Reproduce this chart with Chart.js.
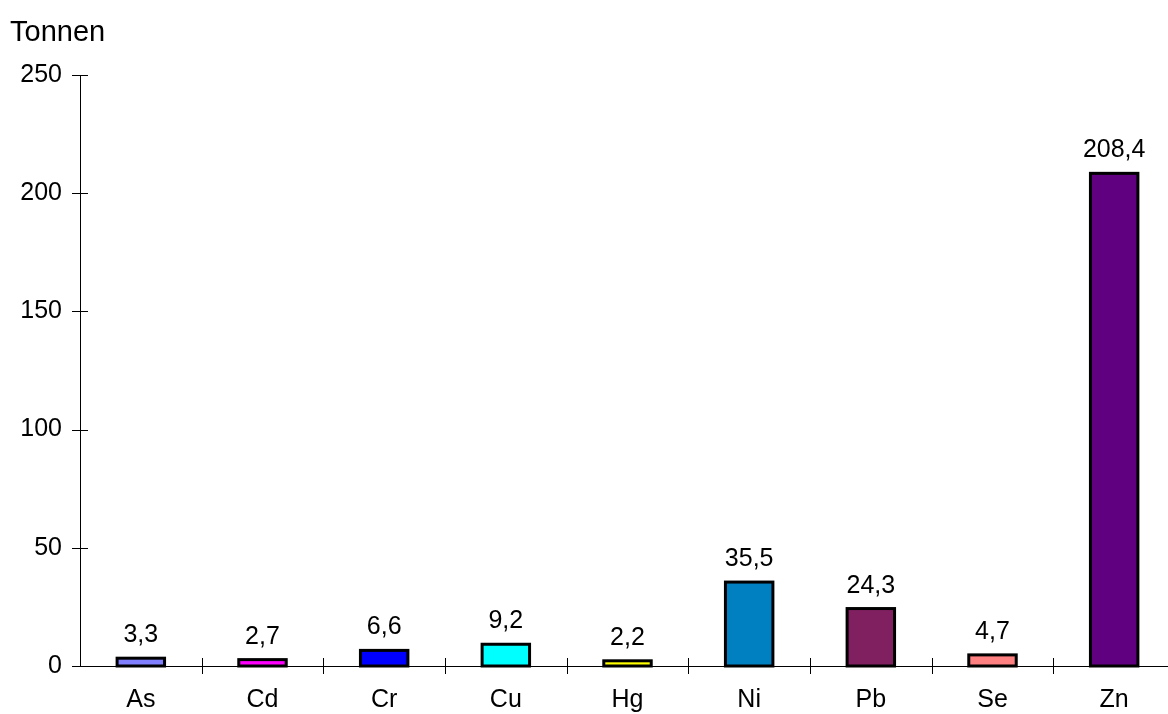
<!DOCTYPE html>
<html>
<head>
<meta charset="utf-8">
<script src="https://cdn.jsdelivr.net/npm/chart.js@4/dist/chart.umd.min.js"></script>
<style>
  html, body { margin: 0; padding: 0; background: #fff; overflow: hidden; }
  #chart { display: block; }
</style>
</head>
<body>
<canvas id="chart" width="1180" height="714" style="width:1180px;height:714px"></canvas>
<script>
const categories = ['As', 'Cd', 'Cr', 'Cu', 'Hg', 'Ni', 'Pb', 'Se', 'Zn'];
const values = [3.3, 2.7, 6.6, 9.2, 2.2, 35.5, 24.3, 4.7, 208.4];
const barColors = ['#8080FF', '#FF00FF', '#0000FF', '#00FFFF', '#FFFF00', '#0080C0', '#802060', '#FF8080', '#600080'];
const yTicks = [0, 50, 100, 150, 200, 250];
const unitLabel = 'Tonnen';

const FONT = "'Liberation Sans', Arial, sans-serif";

// bar outlines centred on the edges (like the original), tick marks
// crossing the axes, value labels and unit label
const extras = {
  id: 'extras',
  afterDatasetsDraw(chart) {
    const ctx = chart.ctx;
    const x = chart.scales.x;
    const y = chart.scales.y;
    const area = chart.chartArea;
    const meta = chart.getDatasetMeta(0);
    ctx.save();

    ctx.strokeStyle = '#000';
    ctx.lineWidth = 3;
    meta.data.forEach(bar => {
      ctx.strokeRect(bar.x - bar.width / 2, bar.y, bar.width, bar.base - bar.y);
    });

    ctx.lineWidth = 1;
    ctx.beginPath();
    y.ticks.forEach((t, i) => {
      const py = Math.round(y.getPixelForTick(i)) + 0.5;
      ctx.moveTo(area.left - 8, py);
      ctx.lineTo(area.left + 8, py);
    });
    for (let i = 0; i < categories.length; i++) {
      const px = Math.round((x.getPixelForValue(i) + x.getPixelForValue(i + 1)) / 2) + 0.5;
      ctx.moveTo(px, area.bottom - 8);
      ctx.lineTo(px, area.bottom + 8);
    }
    ctx.stroke();

    ctx.fillStyle = '#000';
    ctx.font = '25px ' + FONT;
    ctx.textAlign = 'center';
    ctx.textBaseline = 'alphabetic';
    meta.data.forEach((bar, i) => {
      ctx.fillText(values[i].toFixed(1).replace('.', ','), bar.x, bar.y - 16);
    });

    ctx.font = '29px ' + FONT;
    ctx.textAlign = 'left';
    ctx.fillText(unitLabel, 10, 41);
    ctx.restore();
  }
};

new Chart(document.getElementById('chart'), {
  type: 'bar',
  data: {
    labels: categories,
    datasets: [{
      data: values,
      backgroundColor: barColors,
      borderWidth: 0,
      categoryPercentage: 1,
      barPercentage: 0.39
    }]
  },
  options: {
    responsive: false,
    animation: false,
    layout: { padding: { top: 75, right: 5, left: 0, bottom: 0 } },
    plugins: { legend: { display: false }, tooltip: { enabled: false } },
    scales: {
      x: {
        afterFit(scale) { scale.height = 48; },
        grid: { display: false },
        border: { display: true, color: '#000', width: 1 },
        ticks: { color: '#000', font: { family: FONT, size: 25 }, padding: 11 }
      },
      y: {
        min: 0,
        max: 250,
        afterFit(scale) { scale.width = 80; },
        afterBuildTicks(scale) { scale.ticks = yTicks.map(v => ({ value: v })); },
        grid: { display: false },
        border: { display: true, color: '#000', width: 1 },
        ticks: { color: '#000', font: { family: FONT, size: 25 }, padding: 10 }
      }
    }
  },
  plugins: [extras]
});
</script>
</body>
</html>
